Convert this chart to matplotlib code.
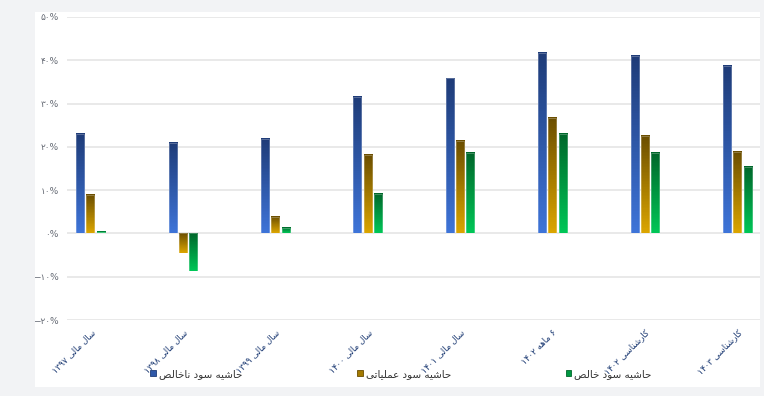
import re
import numpy as np
import matplotlib
matplotlib.use('Agg')
import matplotlib.pyplot as plt
from matplotlib.colors import LinearSegmentedColormap, to_rgb
from matplotlib.patches import Patch, Rectangle

# --- data -----------------------------------------------------------------
categories = ['سال مالی ۱۳۹۷', 'سال مالی ۱۳۹۸', 'سال مالی ۱۳۹۹', 'سال مالی ۱۴۰۰',
              'سال مالی ۱۴۰۱', '۶ ماهه ۱۴۰۲', 'کارشناسی ۱۴۰۲', 'کارشناسی ۱۴۰۳']
series_names = ['حاشیه سود ناخالص', 'حاشیه سود عملیاتی', 'حاشیه سود خالص']
gross_margin = [22.9, 21.0, 21.9, 31.6, 35.8, 41.6, 41.0, 38.7]
operating_margin = [8.9, -4.5, 3.9, 18.2, 21.3, 26.6, 22.5, 18.8]
net_margin = [0.3, -8.7, 1.3, 9.1, 18.5, 22.9, 18.6, 15.3]
y_ticks = [-20, -10, 0, 10, 20, 30, 40, 50]

# gradient colours (top, bottom)
grads = [('#1f3c78', '#3e74d8'), ('#6b4e00', '#dba500'), ('#00672b', '#00c657')]

# --- minimal persian shaping (matplotlib has no text shaping) --------------
FORMS = {  # isolated, final, initial, medial
    'ا': ('\uFE8D', '\uFE8E', None, None),
    'ت': ('\uFE95', '\uFE96', '\uFE97', '\uFE98'),
    'ح': ('\uFEA1', '\uFEA2', '\uFEA3', '\uFEA4'),
    'خ': ('\uFEA5', '\uFEA6', '\uFEA7', '\uFEA8'),
    'د': ('\uFEA9', '\uFEAA', None, None),
    'ر': ('\uFEAD', '\uFEAE', None, None),
    'س': ('\uFEB1', '\uFEB2', '\uFEB3', '\uFEB4'),
    'ش': ('\uFEB5', '\uFEB6', '\uFEB7', '\uFEB8'),
    'ص': ('\uFEB9', '\uFEBA', '\uFEBB', '\uFEBC'),
    'ع': ('\uFEC9', '\uFECA', '\uFECB', '\uFECC'),
    'ل': ('\uFEDD', '\uFEDE', '\uFEDF', '\uFEE0'),
    'م': ('\uFEE1', '\uFEE2', '\uFEE3', '\uFEE4'),
    'ن': ('\uFEE5', '\uFEE6', '\uFEE7', '\uFEE8'),
    'ه': ('\uFEE9', '\uFEEA', '\uFEEB', '\uFEEC'),
    'و': ('\uFEED', '\uFEEE', None, None),
    'ی': ('\uFBFC', '\uFBFD', '\uFBFE', '\uFBFF'),
    'ک': ('\uFB8E', '\uFB8F', '\uFB90', '\uFB91'),
}


def shape(text):
    out = []
    for i, c in enumerate(text):
        if c not in FORMS:
            out.append(c)
            continue
        prev = text[i - 1] if i > 0 else None
        nxt = text[i + 1] if i + 1 < len(text) else None
        iso, fin, ini, med = FORMS[c]
        jp = prev in FORMS and FORMS[prev][2] is not None
        jn = ini is not None and nxt in FORMS
        if jp and jn:
            out.append(med)
        elif jp:
            out.append(fin)
        elif jn:
            out.append(ini)
        else:
            out.append(iso)
    s = ''.join(out)[::-1]
    return re.sub(r'[۰-۹0-9]+', lambda m: m.group(0)[::-1], s)


def fa_num(v):
    s = str(abs(v)).translate(str.maketrans('0123456789', '۰۱۲۳۴۵۶۷۸۹'))
    return ('−' if v < 0 else '') + s + '%'


plt.rcParams['font.family'] = ['DejaVu Sans']

fig = plt.figure(figsize=(7.64, 3.96), dpi=100)
fig.patch.set_facecolor('#f2f3f5')
fig.patches.append(Rectangle((35 / 764, 9 / 396), 725 / 764, 375 / 396,
                             transform=fig.transFigure, facecolor='white',
                             edgecolor='none', zorder=-10))

ax = fig.add_axes([67 / 764, 76 / 396, 693 / 764, 303 / 396])
ax.set_facecolor('none')
ax.set_zorder(1)

x = np.arange(len(categories))
w = 0.087
offs = [-0.111, 0.0, 0.111]
data = [gross_margin, operating_margin, net_margin]

handles = []
for vals, off, (c_top, c_bot), name in zip(data, offs, grads, series_names):
    cmap = LinearSegmentedColormap.from_list('g', [c_top, c_bot])
    grad = np.linspace(0, 1, 64).reshape(-1, 1)
    bars = ax.bar(x + off, vals, w, facecolor='none',
                  edgecolor=(1, 1, 1, 0.3), linewidth=0.6, zorder=3)
    for b in bars:
        x0, y0 = b.get_x(), b.get_y()
        h = b.get_height()
        ax.imshow(grad, cmap=cmap, aspect='auto', interpolation='nearest',
                  extent=(x0, x0 + b.get_width(), min(y0, y0 + h), max(y0, y0 + h)),
                  origin='upper', zorder=2)
    mid = tuple((np.array(to_rgb(c_top)) + np.array(to_rgb(c_bot))) / 2)
    handles.append(Patch(facecolor=mid, edgecolor=c_top, linewidth=0.6,
                         label=shape(name)))

ax.set_xlim(-0.254, 7.246)
ax.set_ylim(-20, 50)
ax.set_yticks(y_ticks)
ax.set_yticklabels([fa_num(v) for v in y_ticks], fontsize=6.5, color='#666b75')
ax.yaxis.grid(True, color='#e3e3e3', linewidth=1.1)
ax.set_axisbelow(True)
ax.set_xticks(x)
ax.set_xticklabels([shape(c) for c in categories], rotation=45, ha='right',
                   va='top', rotation_mode='anchor', fontsize=6.2, color='#1c3a73')
ax.tick_params(axis='both', length=0)
ax.tick_params(axis='y', pad=6)
ax.tick_params(axis='x', pad=6)
for s in ax.spines.values():
    s.set_visible(False)

fig.legend(handles=handles, loc='center', bbox_to_anchor=(401 / 764, 22 / 396),
           ncol=3, frameon=False, fontsize=7.5, labelcolor='#333333',
           handlelength=0.55, handleheight=0.55, handletextpad=0.3,
           columnspacing=11.0)

fig.savefig('out.png', dpi=100, facecolor=fig.get_facecolor())
